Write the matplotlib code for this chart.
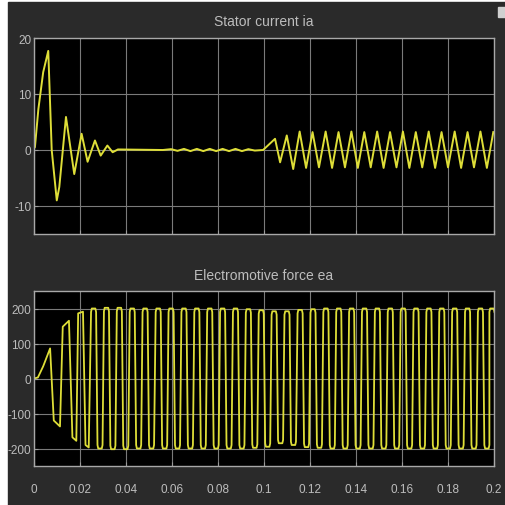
import numpy as np
import matplotlib.pyplot as plt
from matplotlib.patches import Rectangle

plt.rcParams['axes.unicode_minus'] = False
plt.rcParams['font.family'] = ['Liberation Sans Narrow', 'Liberation Sans', 'DejaVu Sans']

# Stator current ia
# start-up transient (s, A)
ia_start_t = [0.0, 0.0004, 0.0019, 0.0040, 0.0062, 0.0077, 0.0099, 0.0110, 0.0139,
              0.0175, 0.0207, 0.0233, 0.0265, 0.0290, 0.0319, 0.0342, 0.0365, 0.0560]
ia_start_v = [0.3, 0.5, 7.3, 13.9, 17.7, 0.0, -9.0, -6.6, 5.9,
              -4.3, 2.9, -2.1, 1.7, -1.0, 0.8, -0.4, 0.1, 0.0]
# small ripple before the load step
ia_ripple_t = [0.0596, 0.0624, 0.0652, 0.0680, 0.0708, 0.0736, 0.0764, 0.0792,
               0.0820, 0.0848, 0.0876, 0.0904, 0.0932, 0.0960, 0.0996, 0.1048]
ia_ripple_v = [0.15, -0.15, 0.2, -0.2, 0.2, -0.2, 0.2, -0.2,
               0.2, -0.2, 0.2, -0.2, 0.15, -0.1, 0.0, 2.0]
# steady oscillation after 0.1 s
ia_trough_t = [0.1070, 0.1127, 0.1183, 0.1239, 0.1296, 0.1352, 0.1408, 0.1464, 0.1520,
               0.1576, 0.1632, 0.1688, 0.1744, 0.1800, 0.1857, 0.1913, 0.1969]
ia_trough_v = [-2.2, -3.4, -3.2, -3.1, -3.2, -3.1, -3.2, -3.1, -3.2,
               -3.1, -3.2, -3.1, -3.2, -3.1, -3.2, -3.1, -3.2]
ia_peak_t = [0.1099, 0.1155, 0.1211, 0.1268, 0.1324, 0.1380, 0.1436, 0.1492, 0.1548,
             0.1604, 0.1660, 0.1716, 0.1772, 0.1829, 0.1885, 0.1941, 0.1997]
ia_peak_v = [2.6, 3.3, 3.2, 3.3, 3.2, 3.3, 3.2, 3.3, 3.2,
             3.3, 3.2, 3.3, 3.2, 3.3, 3.2, 3.3, 3.2]

# Electromotive force ea
emf_start_t = [0.0, 0.0017, 0.0040, 0.0070, 0.0086, 0.0113, 0.0125, 0.0152,
               0.0167, 0.0184, 0.0192, 0.0213, 0.0224, 0.0238]
emf_start_v = [0, 3, 35, 86, -120, -137, 148, 165,
               -168, -178, 186, 191, -190, -197]
emf_top_t = [0.0259, 0.0315, 0.0371, 0.0427, 0.0483, 0.0540, 0.0596, 0.0652,
             0.0708, 0.0764, 0.0820, 0.0876, 0.0932, 0.0988, 0.1044, 0.1100,
             0.1157, 0.1213, 0.1269, 0.1325, 0.1381, 0.1437, 0.1493, 0.1549,
             0.1605, 0.1661, 0.1717, 0.1773, 0.1829, 0.1885, 0.1941, 0.1991]
emf_top_v = [200, 202, 202, 200, 200, 200, 200, 200,
             200, 200, 200, 200, 198, 195, 192, 192,
             196, 198, 200, 200, 200, 200, 200, 200,
             200, 200, 200, 200, 200, 200, 200, 200]
emf_bot_t = [0.0287, 0.0343, 0.0399, 0.0455, 0.0511, 0.0568, 0.0624, 0.0680,
             0.0736, 0.0792, 0.0848, 0.0904, 0.0960, 0.1016, 0.1072, 0.1128,
             0.1185, 0.1241, 0.1297, 0.1353, 0.1409, 0.1465, 0.1521, 0.1577,
             0.1633, 0.1689, 0.1745, 0.1801, 0.1857, 0.1913, 0.1969]
emf_bot_v = [-200, -202, -202, -200, -200, -200, -200, -200,
             -200, -200, -200, -200, -198, -195, -185, -190,
             -196, -198, -200, -200, -200, -200, -200, -200,
             -200, -200, -200, -200, -200, -200, -200]

x_ticks = [0, 0.02, 0.04, 0.06, 0.08, 0.1, 0.12, 0.14, 0.16, 0.18, 0.2]
x_labels = ['0', '0.02', '0.04', '0.06', '0.08', '0.1', '0.12', '0.14', '0.16', '0.18', '0.2']
ia_yticks = [-10, 0, 10, 20]
emf_yticks = [-200, -100, 0, 100, 200]

BG = '#2a2a2a'
TXT = '#bdbdbd'
TRACE = '#dede38'


def build_ia():
    t = list(ia_start_t) + list(ia_ripple_t)
    v = list(ia_start_v) + list(ia_ripple_v)
    # steady part: alternate trough/peak
    for i in range(len(ia_peak_t)):
        t += [ia_trough_t[i], ia_peak_t[i]]
        v += [ia_trough_v[i], ia_peak_v[i]]
    return t, v


def build_emf():
    t = list(emf_start_t)
    v = list(emf_start_v)
    # flat-topped half waves around each plateau centre
    hw = 0.0011
    plateaus = sorted(zip(emf_top_t + emf_bot_t, emf_top_v + emf_bot_v))
    for c, lev in plateaus:
        t += [c - hw, c - 0.7 * hw, c + 0.7 * hw, c + hw]
        v += [0.95 * lev, lev, lev, 0.95 * lev]
    return t, v


def style_axes(ax, yticks, show_x):
    ax.set_facecolor('black')
    ax.set_xlim(0, 0.2)
    ax.set_xticks(x_ticks)
    if show_x:
        ax.set_xticklabels(x_labels)
    else:
        ax.set_xticklabels([])
    ax.set_yticks(yticks)
    ax.set_yticklabels([str(y) for y in yticks])
    ax.grid(True, color='#7a7a7a', linewidth=0.8)
    ax.tick_params(colors='#9a9a9a', labelcolor=TXT, labelsize=8.5,
                   direction='in', length=3, pad=2)
    ax.tick_params(axis='x', pad=12)
    for s in ax.spines.values():
        s.set_color('#a8a8a8')
        s.set_linewidth(1.0)


def main():
    fig = plt.figure(figsize=(5.05, 5.06), dpi=100, facecolor='white')
    fig.patches.append(Rectangle((8 / 505, 0), 497 / 505, 503 / 506,
                                 transform=fig.transFigure, color=BG, zorder=-10))
    fig.patches.append(Rectangle((498 / 505, 1 - 18 / 506), 7 / 505, 10 / 506,
                                 transform=fig.transFigure, color='#d0d0d0', zorder=-10))

    ax1 = fig.add_axes([34 / 505, 1 - 235 / 506, 460 / 505, 196 / 506])
    ax2 = fig.add_axes([34 / 505, 1 - 467 / 506, 460 / 505, 175 / 506])

    t, v = build_ia()
    ax1.plot(t, v, color=TRACE, linewidth=1.4)
    ax1.set_ylim(-15, 20)
    style_axes(ax1, ia_yticks, False)
    ax1.set_title('Stator current ia', color=TXT, fontsize=10, pad=9)

    t, v = build_emf()
    ax2.plot(t, v, color=TRACE, linewidth=1.3)
    ax2.set_ylim(-250, 250)
    style_axes(ax2, emf_yticks, True)
    ax2.set_title('Electromotive force ea', color=TXT, fontsize=10, pad=9)

    fig.savefig('out.png', dpi=100, facecolor=fig.get_facecolor())


if __name__ == "__main__":
    main()
